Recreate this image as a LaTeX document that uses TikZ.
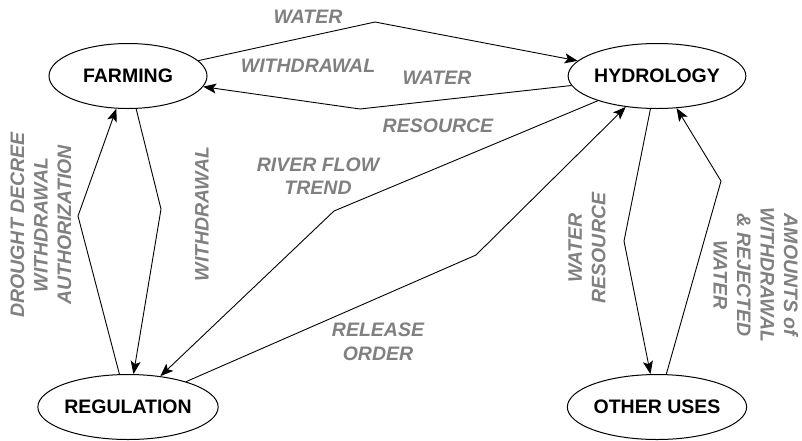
\documentclass[tikz,border=0pt]{standalone}
\usepackage{fontspec}
\setmainfont{Liberation Sans}
\usetikzlibrary{shapes.geometric,arrows.meta}
\definecolor{labelgray}{HTML}{808080}
\begin{document}
\begin{tikzpicture}[x=1pt,y=-1pt,
  actor/.style={ellipse,draw,line width=1pt,minimum width=158pt,minimum height=65pt,inner sep=0pt,
    font=\fontsize{19.5}{23}\selectfont\bfseries},
  flowlabel/.style={text=labelgray,align=center,inner sep=0pt,
    font=\fontsize{19.5}{23.5}\selectfont\bfseries\itshape},
  arr/.style={line width=0.9pt,-{Stealth[length=13pt,width=10pt,inset=3pt]}}]
\useasboundingbox (0,0) rectangle (802,440);

% actors
\node[actor] (farm) at (128,76) {FARMING};
\node[actor] (hyd)  at (657,76) {HYDROLOGY};
\node[actor] (reg)  at (128,407) {REGULATION};
\node[actor] (oth)  at (657,407) {OTHER USES};

% bends of the flows
\coordinate (bWW) at (375,22);
\coordinate (bWR) at (360,109);
\coordinate (bDD) at (78,216);
\coordinate (bWD) at (161,209);
\coordinate (bRF) at (334,211);
\coordinate (bRO) at (476,255);
\coordinate (bHO) at (624,241);
\coordinate (bOH) at (721,181);

% flows
\draw[arr] (farm) -- (bWW) -- (hyd);
\draw[arr] (hyd) -- (bWR) -- (farm);
\draw[arr] (reg) -- (bDD) -- (farm);
\draw[arr] (farm) -- (bWD) -- (reg);
\draw[arr] (hyd) -- (bRF) -- (reg);
\draw[arr] (reg) -- (bRO) -- (hyd);
\draw[arr] (hyd) -- (bHO) -- (oth);
\draw[arr] (oth) -- (bOH) -- (hyd);

% flow labels
\node[flowlabel] (lWW1) at (308,17) {WATER};
\node[flowlabel] (lWW2) at (308,66) {WITHDRAWAL};
\node[flowlabel] (lWR1) at (437,78) {WATER};
\node[flowlabel] (lWR2) at (438,126) {RESOURCE};
\node[flowlabel] (lRF) at (318,176) {RIVER FLOW\\TREND};
\node[flowlabel] (lRO) at (378,342) {RELEASE\\ORDER};
\node[flowlabel,rotate=90] (lDD) at (41,225) {DROUGHT DECREE\\WITHDRAWAL\\AUTHORIZATION};
\node[flowlabel,rotate=90] (lWD) at (202,214) {WITHDRAWAL};
\node[flowlabel,rotate=90] (lHO) at (587,248) {WATER\\RESOURCE};
\node[flowlabel,rotate=-90] (lOH) at (756,275) {AMOUNTS of\\WITHDRAWAL\\\& REJECTED\\WATER};
\end{tikzpicture}
\end{document}
